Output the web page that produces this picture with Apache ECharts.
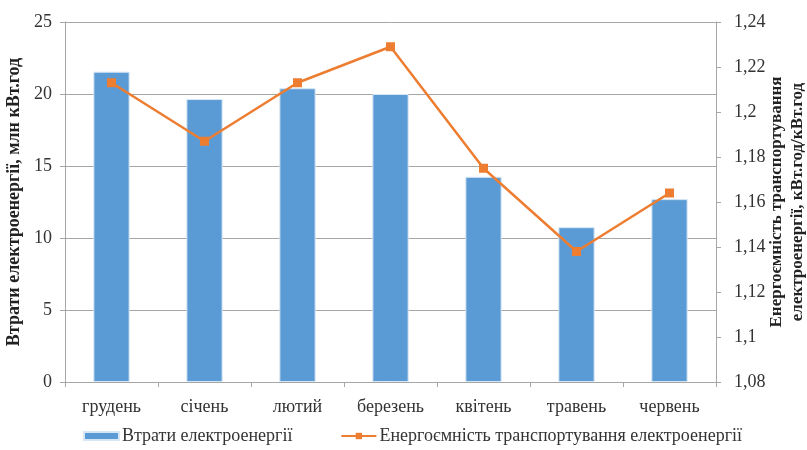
<!DOCTYPE html>
<html>
<head>
<meta charset="utf-8">
<script src="https://cdn.jsdelivr.net/npm/echarts@6/dist/echarts.min.js"></script>
<style>
  html, body { margin: 0; padding: 0; background: #fff; }
  #chart { width: 807px; height: 450px; }
</style>
</head>
<body>
<div id="chart"></div>
<script>
const months = ['грудень', 'січень', 'лютий', 'березень', 'квітень', 'травень', 'червень']
const losses = [21.55, 19.65, 20.4, 20.0, 14.25, 10.75, 12.7]
const intensity = [1.213, 1.187, 1.213, 1.229, 1.175, 1.138, 1.164]

const serif = '"Liberation Serif", "DejaVu Serif", serif'
const gridColor = '#a6a6a6'

function commaNum(v) {
  return String(Math.round(v * 100) / 100).replace('.', ',')
}

const chart = echarts.init(document.getElementById('chart'))

chart.setOption({
  backgroundColor: '#fff',
  animation: false,
  grid: { left: 65, right: 91, top: 22, bottom: 68, outerBoundsMode: 'none', containLabel: false },
  legend: {
    bottom: 0,
    left: 78,
    itemGap: 48,
    itemWidth: 35,
    itemHeight: 8,
    textStyle: { fontFamily: serif, fontSize: 18, color: '#333', padding: [0, 0, 0, -2] },
    data: [
      { name: 'Втрати електроенергії', icon: 'rect' },
      { name: 'Енергоємність транспортування електроенергії' }
    ]
  },
  xAxis: {
    type: 'category',
    data: months,
    axisLine: { lineStyle: { color: gridColor } },
    axisTick: { show: true, length: 5, lineStyle: { color: gridColor } },
    axisLabel: { fontFamily: serif, fontSize: 18, color: '#333', margin: 16 }
  },
  yAxis: [
    {
      type: 'value',
      min: 0,
      max: 25,
      interval: 5,
      name: 'Втрати електроенергії, млн кВт.год',
      nameLocation: 'middle',
      nameRotate: 90,
      nameGap: 42,
      nameMoveOverlap: false,
      nameTextStyle: { fontFamily: serif, fontSize: 18, fontWeight: 'bold', color: '#222' },
      axisLine: { show: true, lineStyle: { color: gridColor } },
      axisTick: { show: true, length: 5, lineStyle: { color: gridColor } },
      axisLabel: { fontFamily: serif, fontSize: 18, color: '#333', margin: 13 },
      splitLine: { lineStyle: { color: gridColor, width: 1 } }
    },
    {
      type: 'value',
      min: 1.08,
      max: 1.24,
      interval: 0.02,
      position: 'right',
      name: 'Енергоємність транспортування\nелектроенергії, кВт.год/кВт.год',
      nameLocation: 'middle',
      nameRotate: 90,
      nameGap: 50,
      nameMoveOverlap: false,
      nameTextStyle: { fontFamily: serif, fontSize: 17, fontWeight: 'bold', color: '#222', lineHeight: 21 },
      axisLine: { show: true, lineStyle: { color: gridColor } },
      axisTick: { show: true, length: 5, lineStyle: { color: gridColor } },
      axisLabel: { fontFamily: serif, fontSize: 18, color: '#333', margin: 18, formatter: commaNum },
      splitLine: { show: false }
    }
  ],
  series: [
    {
      name: 'Втрати електроенергії',
      type: 'bar',
      yAxisIndex: 0,
      data: losses,
      barWidth: '39%',
      itemStyle: { color: '#5b9bd5', borderColor: '#d6e6f5', borderWidth: 1 }
    },
    {
      name: 'Енергоємність транспортування електроенергії',
      type: 'line',
      yAxisIndex: 1,
      data: intensity,
      symbol: 'rect',
      symbolSize: 9,
      lineStyle: { color: '#ed7d31', width: 2.5 },
      itemStyle: { color: '#ed7d31' }
    }
  ]
})
</script>
</body>
</html>
